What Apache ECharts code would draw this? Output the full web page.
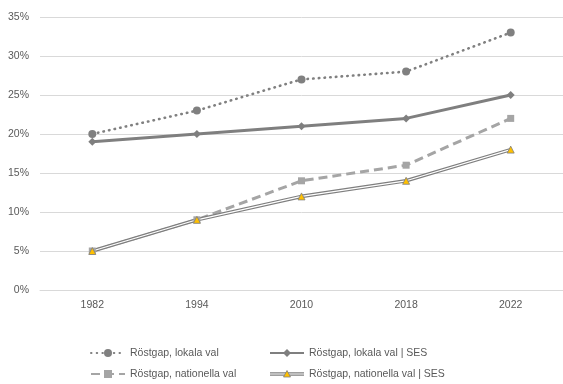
<!DOCTYPE html>
<html><head><meta charset="utf-8">
<script src="https://cdn.jsdelivr.net/npm/echarts@6/dist/echarts.min.js"></script>
<style>html,body{margin:0;padding:0;background:#fff}#c{width:563px;height:384px}</style>
</head><body><div id="c"></div>
<script>
var categories = ['1982', '1994', '2010', '2018', '2022'];
var lokala = [20, 23, 27, 28, 33];
var lokalaSES = [19, 20, 21, 22, 25];
var nationella = [5, 9, 14, 16, 22];
var nationellaSES = [5, 9, 12, 14, 18];
var names = ['Röstgap, lokala val', 'Röstgap, lokala val | SES', 'Röstgap, nationella val', 'Röstgap, nationella val | SES'];

var font = 'Liberation Sans';
var txt = '#595959';
var svg = '<svg xmlns="http://www.w3.org/2000/svg" width="34" height="10"><line x1="0" y1="5" x2="34" y2="5" stroke="#7F7F7F" stroke-width="3.6"/><line x1="0" y1="5" x2="34" y2="5" stroke="#FFFFFF" stroke-width="1.2"/><polygon points="17,1.5 20.5,8 13.5,8" fill="#FFC000" stroke="#7F7F7F" stroke-width="0.8"/></svg>';
var dblIcon = 'image://data:image/svg+xml;charset=utf-8,' + encodeURIComponent(svg);

var legendBase = {top: 347, orient: 'vertical', padding: 0, height: 37, itemWidth: 34, itemHeight: 10, itemGap: 9,
  textStyle: {color: txt, fontFamily: font, fontSize: 10.5, lineHeight: 12}};

var chart = echarts.init(document.getElementById('c'), null, {renderer: 'canvas'});
chart.setOption({
  animation: false,
  grid: {left: 40, top: 17, width: 530, height: 273, containLabel: false},
  xAxis: {
    type: 'category', data: categories, boundaryGap: true,
    axisLine: {lineStyle: {color: '#D9D9D9', width: 1}},
    axisTick: {show: false},
    axisLabel: {color: txt, fontFamily: font, fontSize: 10.5, margin: 10}
  },
  yAxis: {
    type: 'value', min: 0, max: 35, interval: 5,
    axisLine: {show: false}, axisTick: {show: false},
    splitLine: {lineStyle: {color: '#D9D9D9', width: 1}},
    axisLabel: {color: txt, fontFamily: font, fontSize: 10.5, margin: 11, formatter: '{value}%'}
  },
  legend: [
    Object.assign({}, legendBase, {left: 90, data: [names[0], names[2]]}),
    Object.assign({}, legendBase, {left: 269, data: [names[1], {name: names[3], icon: dblIcon}]})
  ],
  series: [
    {name: names[0], type: 'line', data: lokala, symbol: 'circle', symbolSize: 8,
     itemStyle: {color: '#808080'},
     lineStyle: {color: '#808080', width: 2.6, type: [0.5, 5.2], cap: 'round'}},
    {name: names[1], type: 'line', data: lokalaSES, symbol: 'diamond', symbolSize: 8,
     itemStyle: {color: '#7F7F7F'},
     lineStyle: {color: '#7F7F7F', width: 3}},
    {name: names[2], type: 'line', data: nationella, symbol: 'rect', symbolSize: 7,
     itemStyle: {color: '#A5A5A5'},
     lineStyle: {color: '#A5A5A5', width: 3, type: [9, 5]}},
    {name: names[3], type: 'line', data: nationellaSES, symbol: 'none',
     itemStyle: {color: '#7F7F7F'},
     lineStyle: {color: '#7F7F7F', width: 3.6}},
    {name: '_inner', type: 'line', data: nationellaSES, symbol: 'triangle', symbolSize: 7,
     itemStyle: {color: '#FFC000', borderColor: '#7F7F7F', borderWidth: 0.8},
     lineStyle: {color: '#FFFFFF', width: 1.2}}
  ]
});
</script></body></html>
